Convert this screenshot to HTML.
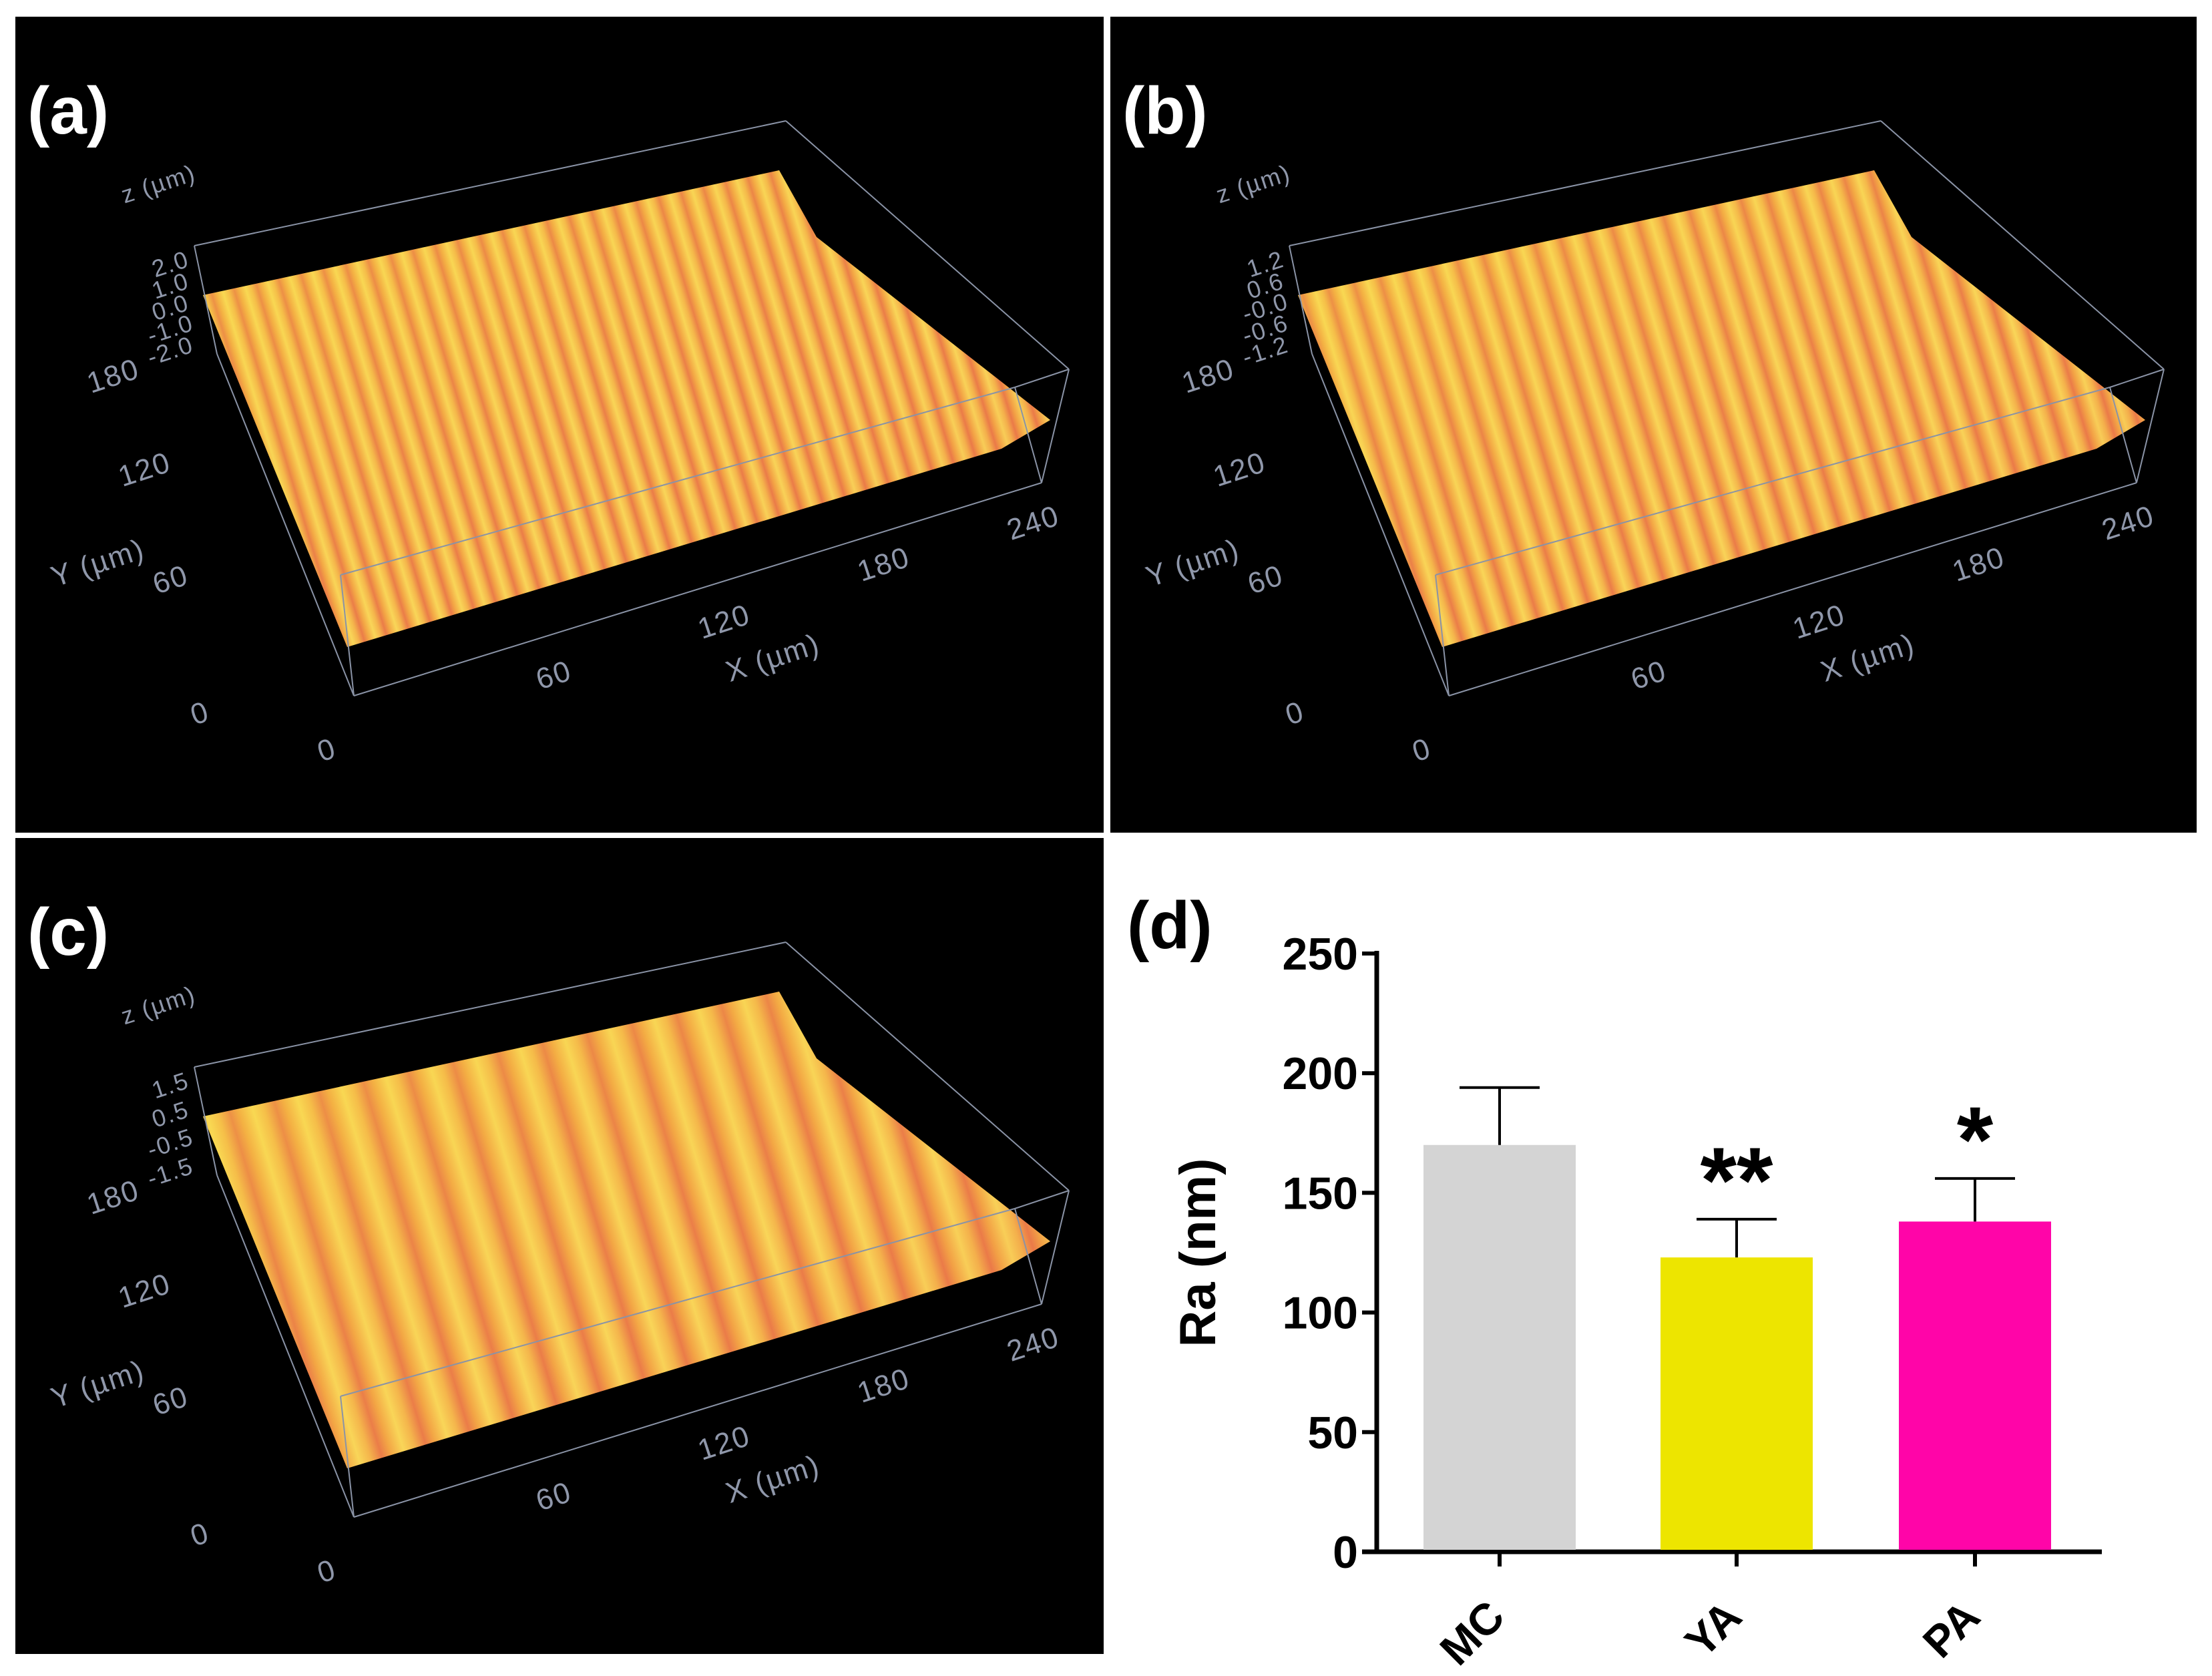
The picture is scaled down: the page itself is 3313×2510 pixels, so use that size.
<!DOCTYPE html>
<html><head><meta charset="utf-8"><style>
html,body{margin:0;padding:0;background:#fff}
svg{display:block}
text{font-family:"Liberation Sans",sans-serif}
</style></head><body>
<svg id="fig" width="3313" height="2510" viewBox="0 0 3313 2510" xmlns="http://www.w3.org/2000/svg">
<defs>
<linearGradient id="shade" x1="0" y1="0" x2="1" y2="1">
<stop offset="0" stop-color="#f7e03a" stop-opacity="0.35"/>
<stop offset="0.6" stop-color="#f0a03a" stop-opacity="0.1"/>
<stop offset="1" stop-color="#e8504a" stop-opacity="0.3"/>
</linearGradient>
</defs>
<g id="panels"></g>
<g id="chart"></g>
</svg>
<script>
// bar chart data
const categories = ["MC","YA","PA"];
const means = [170, 123, 138];
const errors = [24, 16, 18];
const sig = ["", "**", "*"];
const yTicks = [0,50,100,150,200,250];
const colors = ["#d4d4d4","#ede500","#ff05a8"];
// panel metadata
const panelLabels = ["(a)","(b)","(c)"];
const zTickSets = [["2.0","1.0","0.0","-1.0","-2.0"],["1.2","0.6","-0.0","-0.6","-1.2"],["1.5","0.5","-0.5","-1.5"]];
const stripeCounts = [30, 26, 15];

const NS="http://www.w3.org/2000/svg";
function mk(tag,attrs,parent,txt){const e=document.createElementNS(NS,tag);for(const k in attrs)e.setAttribute(k,attrs[k]);if(txt!==undefined)e.textContent=txt;parent.appendChild(e);return e;}

const panelsG=document.getElementById('panels');
const origins=[[23,25,1630,1222],[1663,25,1627,1222],[23,1255,1630,1222]];
origins.forEach((o,i)=>{
  const g=mk('g',{transform:`translate(${o[0]},${o[1]})`},panelsG);
  
  
  mk('rect',{x:0,y:0,width:o[2],height:o[3],fill:'#000'},g);
  const period=1024/stripeCounts[i];
  const ux=980/1024, uy=-297/1024;
  const grad=mk('linearGradient',{id:'str'+i,gradientUnits:'userSpaceOnUse',x1:497,y1:944,x2:497+ux*period,y2:944+uy*period,spreadMethod:'repeat'},g);
  [['0','#f3a546'],['0.3','#fadc5c'],['0.55','#f5b84e'],['0.8','#ea784a'],['1','#f3a546']].forEach(s=>mk('stop',{offset:s[0],'stop-color':s[1]},grad));
  const surf="281,417 1144,230 1200,330 1550,604 1477,647 497,944";
  const s=mk('polygon',{points:surf,fill:`url(#str${i})`},g);
  
  
  mk('polygon',{points:surf,fill:'url(#shade)'},g);
  const bc='#8a93a6';
  [[268,343,1154,156],[1154,156,1578,528],[1578,528,1537,698],[507,1017,1537,698],[268,343,302,505],[302,505,507,1017],[487,836,1497,555],[487,836,507,1017],[1497,555,1578,528],[1497,555,1537,698]].forEach(l=>mk('line',{x1:l[0],y1:l[1],x2:l[2],y2:l[3],stroke:bc,'stroke-width':2},g));
  const lab=mk('text',{x:18,y:175,fill:'#fff','font-size':100,'font-weight':'bold'},g,panelLabels[i]);
  
  
  const tc='#8f97aa';
  const t=(x,y,s,fs)=>{const e=mk('text',{x:x,y:y,fill:tc,'font-size':fs||44,'text-anchor':'middle','letter-spacing':2,transform:`rotate(-18 ${x} ${y})`},g,s);};
  t(218,262,'z (µm)',36);
  const zs=zTickSets[i];const zy0=370,zy1=500;
  zs.forEach((z,k)=>t(236,zy0+(zy1-zy0)*k/(zs.length-1)+12,z,36));
  t(151,552,'180');t(198,692,'120');t(128,832,'Y (µm)');t(237,857,'60');t(281,1057,'0');t(471,1112,'0');
  t(811,1000,'60');t(1066,920,'120');t(1139,974,'X (µm)');t(1305,834,'180');t(1529,772,'240');
});

// chart
const c=document.getElementById('chart');
const x0=2062, xEnd=3148, yBase=2324, yTop=1428, vmax=250;
const yS=v=>yBase-(v/vmax)*(yBase-yTop);
const centers=[2246,2601,2958], bw=228;
mk('line',{x1:x0,y1:yTop-4,x2:x0,y2:yBase,stroke:'#000','stroke-width':7},c);
mk('line',{x1:x0-22,y1:yBase,x2:xEnd,y2:yBase,stroke:'#000','stroke-width':7},c);
yTicks.forEach(v=>{
  mk('line',{x1:x0-22,y1:yS(v),x2:x0,y2:yS(v),stroke:'#000','stroke-width':6},c);
  const e=mk('text',{x:x0-28,y:yS(v)+24,'font-size':68,'font-weight':'bold','text-anchor':'end'},c,String(v));
  
  
});
const yl=mk('text',{x:1820,y:1876,'font-size':76,'font-weight':'bold','text-anchor':'middle',transform:'rotate(-90 1820 1876)'},c,'Ra (nm)');


categories.forEach((cat,i)=>{
  const cx=centers[i];
  const b=mk('rect',{x:cx-bw/2,y:yS(means[i]),width:bw,height:yBase-yS(means[i])-3,fill:colors[i]},c);
  
  
  const top=yS(means[i]+errors[i]);
  mk('line',{x1:cx,y1:yS(means[i]),x2:cx,y2:top,stroke:'#000','stroke-width':4},c);
  mk('line',{x1:cx-60,y1:top,x2:cx+60,y2:top,stroke:'#000','stroke-width':4},c);
  mk('line',{x1:cx,y1:yBase,x2:cx,y2:yBase+22,stroke:'#000','stroke-width':6},c);
  const lx=cx-10, ly=yBase+80;
  const l=mk('text',{x:lx,y:ly+30,'font-size':66,'font-weight':'bold','text-anchor':'end',transform:`rotate(-45 ${lx} ${ly})`},c,cat);
  
  
  if(sig[i]){const s=mk('text',{x:cx,y:top-10,'font-size':140,'font-weight':'bold','text-anchor':'middle'},c,sig[i]);
    
    }
});
const dl=mk('text',{x:1688,y:1420,'font-size':100,'font-weight':'bold'},c,'(d)');


</script>
</body></html>
